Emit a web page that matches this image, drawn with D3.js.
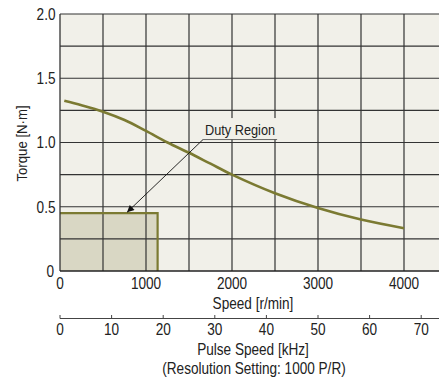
<!DOCTYPE html>
<html>
<head>
<meta charset="utf-8">
<script src="https://cdn.jsdelivr.net/npm/d3@7"></script>
<style>
  html, body { margin: 0; padding: 0; background: #fff; }
  svg { display: block; }
  text { font-family: "Liberation Sans", Arial, sans-serif; fill: #222; }
</style>
</head>
<body>
<svg id="chart" width="439" height="378"></svg>
<script>
// ---- data ----
const speedTicks = [0, 1000, 2000, 3000, 4000];
const speedGrid = [0, 500, 1000, 1500, 2000, 2500, 3000, 3500, 4000];
const torqueTicks = [0, 0.5, 1.0, 1.5, 2.0];
const torqueTickLabels = ["0", "0.5", "1.0", "1.5", "2.0"];
const torqueGrid = [0, 0.25, 0.5, 0.75, 1.0, 1.25, 1.5, 1.75, 2.0];
const pulseTicks = [0, 10, 20, 30, 40, 50, 60, 70];
const curveSpeed  = [50, 250, 500, 750, 1000, 1250, 1500, 1750, 2000, 2500, 3000, 3500, 4000];
const curveTorque = [1.325, 1.29, 1.24, 1.175, 1.09, 1.0, 0.92, 0.835, 0.75, 0.605, 0.49, 0.40, 0.333];
const dutySpeed = 1135;
const dutyTorque = 0.45;
const dutyLabel = "Duty Region";
const arrowTip = [780, 0.457];
const labelAnchor = [1663, 1.023];
const speedMax = 4400, torqueMax = 2.0;
const pulseMax = speedMax / 60;

const SX = 0.85; // horizontal condensing of the font
const svg = d3.select("#chart");
const x = d3.scaleLinear().domain([0, speedMax]).range([60, 438.4]);
const xp = d3.scaleLinear().domain([0, pulseMax]).range([60, 438.4]);
const y = d3.scaleLinear().domain([0, torqueMax]).range([271, 14]);

const olive = "#7b7a32";

function label(sel, tx, ty, size, anchor, rot) {
  return sel.attr("transform", `translate(${tx},${ty})${rot ? " rotate(" + rot + ")" : ""} scale(${SX},1)`)
    .attr("font-size", size).attr("text-anchor", anchor || "middle");
}

// plot background
svg.append("rect").attr("x", x(0)).attr("y", y(torqueMax))
  .attr("width", 439 - x(0)).attr("height", y(0) - y(torqueMax))
  .attr("fill", "#f1f0e9");

// duty region fill
svg.append("rect").attr("x", x(0)).attr("y", y(dutyTorque))
  .attr("width", x(dutySpeed) - x(0)).attr("height", y(0) - y(dutyTorque))
  .attr("fill", "#d9d7c4");

// grid
const g = svg.append("g").attr("stroke", "#333").attr("stroke-width", 1.2);
g.selectAll("line.v").data(speedGrid.slice(1)).join("line")
  .attr("x1", d => x(d)).attr("x2", d => x(d)).attr("y1", y(torqueMax)).attr("y2", y(0));
g.selectAll("line.h").data(torqueGrid.slice(1)).join("line")
  .attr("x1", x(0)).attr("x2", 439).attr("y1", d => y(d)).attr("y2", d => y(d));

// duty region outline (top and right)
svg.append("path")
  .attr("d", `M${x(0)},${y(dutyTorque)}H${x(dutySpeed)}V${y(0)}`)
  .attr("fill", "none").attr("stroke", olive).attr("stroke-width", 2.2);

// curve
const pts = curveSpeed.map((s, i) => [s, curveTorque[i]]);
svg.append("path").datum(pts)
  .attr("d", d3.line().x(d => x(d[0])).y(d => y(d[1])).curve(d3.curveCatmullRom.alpha(0.5)))
  .attr("fill", "none").attr("stroke", olive).attr("stroke-width", 2.6);

// axes lines (left, bottom)
svg.append("line").attr("x1", x(0)).attr("x2", x(0)).attr("y1", y(torqueMax)).attr("y2", y(0))
  .attr("stroke", "#333").attr("stroke-width", 1.3);
svg.append("line").attr("x1", x(0)).attr("x2", 439).attr("y1", y(0)).attr("y2", y(0))
  .attr("stroke", "#222").attr("stroke-width", 1.5);

// annotation
const lx = x(labelAnchor[0]), ly = y(labelAnchor[1]);
svg.append("defs").append("marker").attr("id", "ah")
  .attr("viewBox", "0 0 10 10").attr("refX", 10).attr("refY", 5)
  .attr("markerWidth", 9).attr("markerHeight", 7).attr("markerUnits", "userSpaceOnUse")
  .attr("orient", "auto")
  .append("path").attr("d", "M0,0L10,5L0,10z").attr("fill", "#111");
const boxG = svg.append("g");
const labelText = label(svg.append("text"), lx + 2, ly - 5, 15, "start").text(dutyLabel);
const tw = labelText.node().getComputedTextLength() * SX;
boxG.append("rect").attr("x", lx).attr("y", ly - 21.5)
  .attr("width", tw + 4).attr("height", 21.5).attr("fill", "#f1f0e9");
svg.append("line").attr("x1", lx).attr("x2", lx + tw + 4).attr("y1", ly).attr("y2", ly)
  .attr("stroke", "#444").attr("stroke-width", 0.8);
svg.append("line").attr("x1", lx).attr("y1", ly)
  .attr("x2", x(arrowTip[0])).attr("y2", y(arrowTip[1]))
  .attr("stroke", "#111").attr("stroke-width", 0.9).attr("marker-end", "url(#ah)");

// y tick labels
svg.selectAll("text.yt").data(torqueTicks).join("text")
  .each(function(d, i) {
    label(d3.select(this), i === 0 ? 54 : 55.5, y(d) + 5.8, 16, "end").text(torqueTickLabels[i]);
  });

// x tick labels
svg.selectAll("text.xt").data(speedTicks).join("text")
  .each(function(d) { label(d3.select(this), x(d), 288.5, 16, "middle").text(d); });

// titles
label(svg.append("text"), 253, 309, 16, "middle").text("Speed [r/min]");
label(svg.append("text"), 27, 143.5, 15.5, "middle", -90).text("Torque [N·m]");

// pulse axis
svg.append("line").attr("x1", xp(0)).attr("x2", 439).attr("y1", 318.5).attr("y2", 318.5)
  .attr("stroke", "#444").attr("stroke-width", 1.2);
svg.selectAll("line.pt").data(pulseTicks).join("line")
  .attr("x1", d => xp(d)).attr("x2", d => xp(d)).attr("y1", 315).attr("y2", 318.5)
  .attr("stroke", "#444").attr("stroke-width", 1);
svg.selectAll("text.pt").data(pulseTicks).join("text")
  .each(function(d) { label(d3.select(this), xp(d), 335, 16, "middle").text(d); });
label(svg.append("text"), 253, 355, 16, "middle").text("Pulse Speed [kHz]");
label(svg.append("text"), 254, 374, 16, "middle").text("(Resolution Setting: 1000 P/R)");
</script>
</body>
</html>
